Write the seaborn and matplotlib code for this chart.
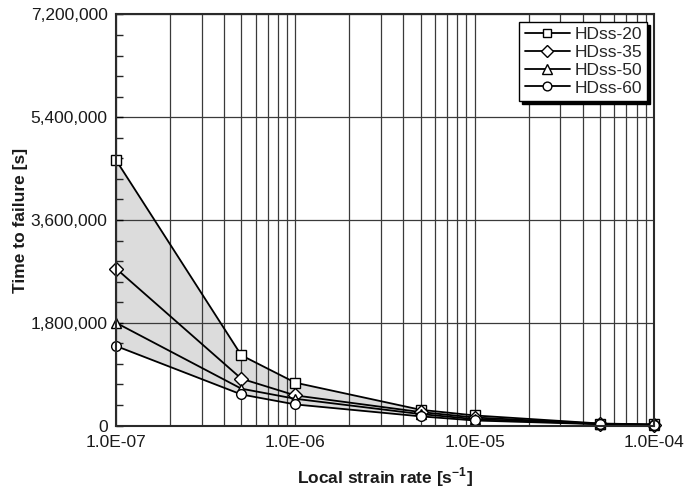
import numpy as np
import pandas as pd
import seaborn as sns
import matplotlib
matplotlib.use("Agg")
import matplotlib.pyplot as plt
from matplotlib.ticker import FixedLocator, FuncFormatter, NullFormatter

# ---- data ----
strain_rate = [1e-7, 5e-7, 1e-6, 5e-6, 1e-5, 5e-5, 1e-4]
hdss20 = [4650000, 1230000, 750000, 275000, 176000, 35000, 18000]
hdss35 = [2750000, 820000, 527000, 235000, 140000, 30000, 15000]
hdss50 = [1800000, 645000, 468000, 200000, 112000, 26000, 13000]
hdss60 = [1393000, 544000, 369000, 160000, 88000, 22000, 11000]
series_names = ["HDss-20", "HDss-35", "HDss-50", "HDss-60"]
markers = ["s", "D", "^", "o"]
y_ticks = [0, 1800000, 3600000, 5400000, 7200000]
x_ticks = [1e-7, 1e-6, 1e-5, 1e-4]
x_labels = ["1.0E-07", "1.0E-06", "1.0E-05", "1.0E-04"]

sns.set_theme(style="white")
plt.rcParams["font.family"] = ["Liberation Sans", "DejaVu Sans"]

df = pd.DataFrame({
    "rate": strain_rate * 4,
    "time": hdss20 + hdss35 + hdss50 + hdss60,
    "series": sum([[n] * len(strain_rate) for n in series_names], []),
})

fig = plt.figure(figsize=(6.88, 4.91), dpi=100)
ax = fig.add_axes([0.1686, 0.1334, 0.7820, 0.8371])

ax.fill_between(strain_rate, hdss60, hdss20, color="#dcdcdc", zorder=0.2, linewidth=0)

msizes = {"s": 7.0, "D": 7.0, "^": 7.5, "o": 7.0}
for name, m in zip(series_names, markers):
    sub = df[df["series"] == name]
    sns.lineplot(data=sub, x="rate", y="time", ax=ax, color="black", lw=1.3,
                 marker=m, markersize=msizes[m], markerfacecolor="white",
                 markeredgecolor="black", markeredgewidth=1.0, label=name,
                 zorder=3, clip_on=False)

ax.set_xscale("log")
ax.set_xlim(1e-7, 1e-4)
ax.set_ylim(0, 7200000)

ax.xaxis.set_major_locator(FixedLocator(x_ticks))
ax.xaxis.set_major_formatter(FuncFormatter(lambda v, p: x_labels[x_ticks.index(v)] if v in x_ticks else ""))
minor_x = [k * 10.0 ** e for e in (-7, -6, -5) for k in range(2, 10)]
ax.xaxis.set_minor_locator(FixedLocator(minor_x))
ax.xaxis.set_minor_formatter(NullFormatter())

ax.yaxis.set_major_locator(FixedLocator(y_ticks))
ax.yaxis.set_major_formatter(FuncFormatter(lambda v, p: f"{int(v):,}"))
ax.yaxis.set_minor_locator(FixedLocator(np.arange(0, 7200001, 360000)))

ax.set_axisbelow(False)
ax.grid(which="major", axis="both", color="#3a3a3a", lw=0.9, zorder=0.5)
ax.grid(which="minor", axis="x", color="#3a3a3a", lw=0.9, zorder=0.5)
for gl in ax.get_xgridlines() + ax.get_ygridlines():
    gl.set_zorder(0.5)

ax.tick_params(axis="y", which="major", direction="in", length=5, width=1,
               left=True, labelsize=12.5, pad=6, colors="black")
ax.tick_params(axis="y", which="minor", direction="in", length=5, width=1, left=True)
ax.tick_params(axis="x", which="both", length=0, labelsize=12.5, pad=7)
for lbl in ax.get_xticklabels() + ax.get_yticklabels():
    lbl.set_color("#1a1a1a")

for s in ax.spines.values():
    s.set_color("#2a2a2a")
    s.set_linewidth(1.5)
    s.set_zorder(4)

ax.set_xlabel("Local strain rate [s$^{\\mathregular{-1}}$]", fontsize=12.5,
              fontweight="bold", labelpad=11, color="#1a1a1a")
ax.set_ylabel("Time to failure [s]", fontsize=12.5, fontweight="bold",
              labelpad=2, color="#1a1a1a")

leg = ax.legend(loc="upper right", bbox_to_anchor=(0.987, 0.982), fontsize=12.5,
                frameon=True, fancybox=False, shadow={"color": "black", "alpha": 1},
                handlelength=2.6, handletextpad=0.25, labelspacing=0.15,
                borderpad=0.3, borderaxespad=0.0, markerscale=0.9)
leg.set_zorder(5)
leg.get_frame().set_edgecolor("black")
leg.get_frame().set_linewidth(1.0)
leg.get_frame().set_facecolor("white")
leg.get_frame().set_alpha(1)

fig.savefig("out.png", dpi=100)
